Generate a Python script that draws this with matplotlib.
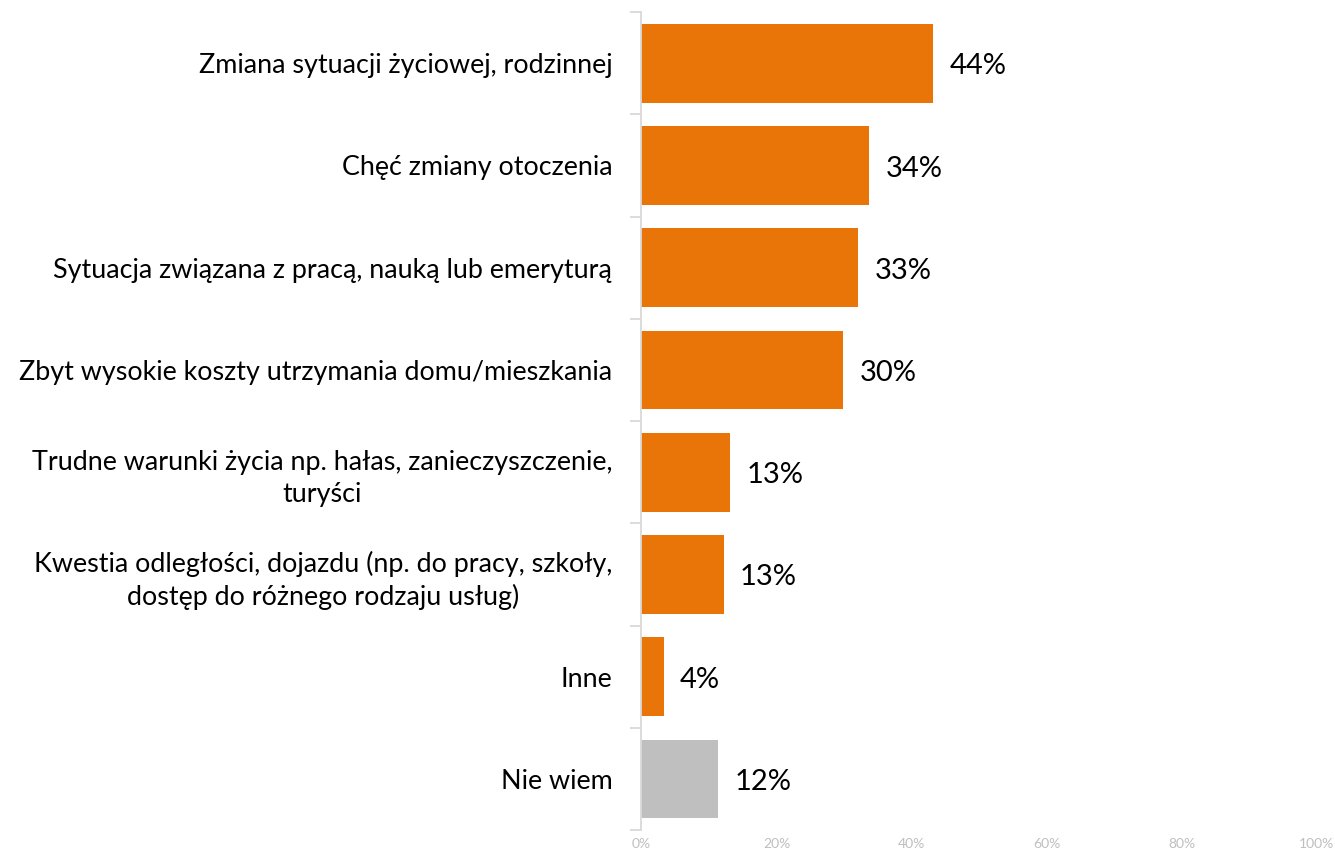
import matplotlib
matplotlib.use("Agg")
import matplotlib.pyplot as plt
import numpy as np

plt.rcParams['font.family'] = ['Lato', 'DejaVu Sans']

categories = [
    "Zmiana sytuacji życiowej, rodzinnej",
    "Chęć zmiany otoczenia",
    "Sytuacja związana z pracą, nauką lub emeryturą",
    "Zbyt wysokie koszty utrzymania domu/mieszkania",
    "Trudne warunki życia np. hałas, zanieczyszczenie,\nturyści",
    "Kwestia odległości, dojazdu (np. do pracy, szkoły,\ndostęp do różnego rodzaju usług)",
    "Inne",
    "Nie wiem",
]
values = [43.2, 33.7, 32.1, 29.9, 13.1, 12.2, 3.3, 11.4]
labels = ["44%", "34%", "33%", "30%", "13%", "13%", "4%", "12%"]
colors = ["#E97407"] * 7 + ["#BFBFBF"]

fig = plt.figure(figsize=(13.35, 8.52), dpi=100)
ax = fig.add_axes([0.4805, 0.0258, 0.506, 0.960])

y = np.arange(len(categories))
ax.barh(y, values, height=0.77, color=colors)
ax.set_ylim(len(categories) - 0.5, -0.5)
ax.set_xlim(0, 100)

for yi, v, lab in zip(y, values, labels):
    ax.text(v + 2.4, yi + 0.03, lab, va="center", ha="left", fontsize=21, color="#000000")

ax.set_yticks(y)
ax.set_yticklabels(categories, fontsize=19.4, linespacing=1.35)
for t in ax.get_yticklabels():
    t.set_multialignment("center")
ax.tick_params(axis="y", which="major", length=0, pad=21)
ax.set_yticks(np.arange(-0.5, len(categories) + 0.5, 1), minor=True)
ax.tick_params(axis="y", which="minor", length=8, width=1.3, color="#D9D9D9")

ax.set_xticks(np.arange(0, 101, 20))
ax.set_xticklabels([f"{t}%" for t in range(0, 101, 20)], fontsize=10, color="#BFBFBF")
ax.tick_params(axis="x", length=0, pad=6)

for s in ["top", "right", "bottom"]:
    ax.spines[s].set_visible(False)
ax.spines["left"].set_color("#D9D9D9")
ax.spines["left"].set_linewidth(1.3)

fig.savefig("out.png", dpi=100)
